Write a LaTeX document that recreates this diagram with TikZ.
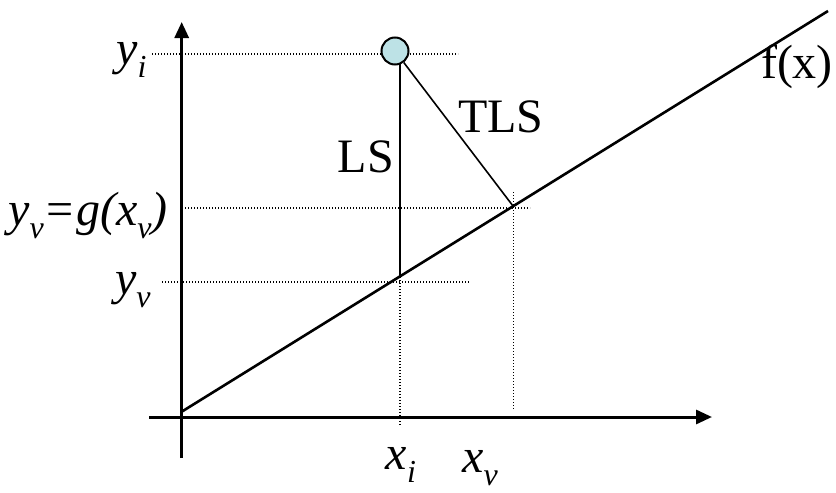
\documentclass[tikz,border=0pt]{standalone}
\usepackage{fontspec}
\setmainfont{Liberation Serif}
\usetikzlibrary{arrows.meta,positioning,calc}
\definecolor{ptfill}{RGB}{189,226,230}
\newcommand{\idx}[1]{\raisebox{-0.28em}{\fontsize{16}{16}\selectfont #1}}

\begin{document}
\begin{tikzpicture}[x=0.5pt, y=-0.5pt,
    axis/.style={line width=1.5pt, -{Triangle[length=8pt,width=7pt]}},
    guide/.style={line width=0.8pt, dash pattern=on 0.7pt off 0.8pt},
    lbl/.style={font=\fontsize{24}{24}\selectfont, inner sep=0pt}]
    \useasboundingbox (0,0) rectangle (836,493);

    % Axes
    \coordinate (xs) at (149,417);
    \coordinate (xe) at (712,417);
    \coordinate (ys) at (181.7,458);
    \coordinate (ye) at (181.7,22);
    \draw[axis] (xs) -- (xe);
    \draw[axis] (ys) -- (ye);

    % Fitted line f(x)
    \coordinate (o) at (181.7,411.7);
    \coordinate (fend) at (828,11);
    \coordinate (lsfoot) at (399.7,276.8);
    \coordinate (tlsfoot) at (513.3,206.4);
    \draw[line width=1.3pt] (o) -- (fend);
    \node[lbl, anchor=base] (fx) at (797,78) {f(x)};

    % Dotted guides
    \draw[guide] (152,54) -- (458,54);
    \draw[guide] (182,208) -- (530,208);
    \draw[guide] (162,282) -- (470,282);
    \draw[guide] (399.7,265) -- (399.7,425);
    \draw[guide] (513.3,192) -- (513.3,410);

    % Data point with LS and TLS residuals
    \draw[line width=1.1pt] (lsfoot |- 0,51) -- (lsfoot);
    \node[circle, draw, line width=1pt, fill=ptfill, minimum size=13.5pt, inner sep=0pt] (pt) at (395,51) {};
    \draw[line width=0.8pt] (pt) -- (tlsfoot);
    \node[lbl, anchor=base] (ls) at (366,172) {LS};
    \node[lbl, anchor=base] (tls) at (501,132) {TLS};

    % Axis labels
    \node[lbl, anchor=base east] (yi) at (147,64) {\textit{y}\idx{\textit{i}}};
    \node[lbl, anchor=base east] (yg) at (168,225) {\textit{y\idx{v}=g(x\idx{v})}};
    \node[lbl, anchor=base east] (yv) at (151,294) {\textit{y\idx{v}}};
    \node[lbl, anchor=base] (xi) at (401,469) {\textit{x\idx{i}}};
    \node[lbl, anchor=base] (xv) at (480,472) {\textit{x\idx{v}}};
\end{tikzpicture}
\end{document}
